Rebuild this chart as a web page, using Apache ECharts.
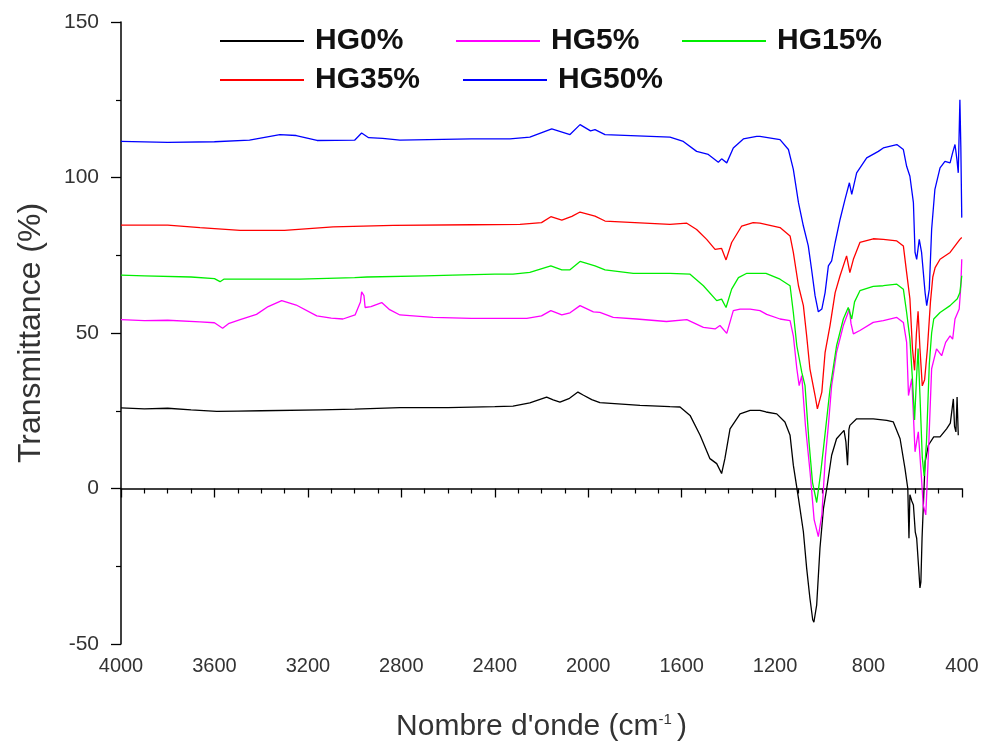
<!DOCTYPE html>
<html><head><meta charset="utf-8">
<script src="https://cdn.jsdelivr.net/npm/echarts@6/dist/echarts.min.js"></script>
<style>html,body{margin:0;padding:0;background:#fff}#c{width:982px;height:747px}</style>
</head><body><div id="c"></div>
<script>
// ---- data (wavenumber cm-1, transmittance %) ----
const seriesNames = ['HG0%', 'HG5%', 'HG15%', 'HG35%', 'HG50%'];
const xTickValues = [4000, 3600, 3200, 2800, 2400, 2000, 1600, 1200, 800, 400];
const yTickValues = [-50, 0, 50, 100, 150];

const hg0Wn = [4000,3900,3800,3700,3590,3500,3400,3148,3000,2806,2600,2400,2322,2250,2178,2150,2121,2080,2044,2020,1985,1950,1778,1650,1607,1564,1521,1479,1450,1429,1415,1393,1350,1307,1265,1239,1193,1158,1136,1122,1100,1079,1065,1051,1039,1034,1022,1008,993,979,958,937,905,897,890,884,880,851,780,722,694,665,644,632,627,623,615,608,600,594,586,580,576,571,558,544,521,494,466,450,437,432,426,421,418,416];
const hg0T  = [25.9,25.6,25.8,25.3,24.8,24.9,25.0,25.3,25.5,26.0,26.0,26.3,26.5,27.5,29.4,28.5,27.8,29,31,30,28.6,27.6,26.7,26.3,26.2,23.5,17.1,9.6,8,4.8,9.6,19.2,24,25.1,25.1,24.6,24,21.4,17.1,7.5,-3.2,-13.9,-25.6,-35.3,-42.2,-43,-37.4,-19.2,-6.4,0,10.7,16,18.7,15,7.5,19,20.3,22.4,22.4,21.9,21.4,16,6.4,0,-16,-2,-4,-5.3,-14,-16,-25,-32,-30,-16,8.5,13.9,16.6,16.6,19.2,21,28.8,20,18.2,29.4,22,17.1];

const hg5Wn = [4000,3900,3800,3662,3600,3565,3540,3490,3420,3370,3312,3250,3162,3100,3050,2998,2975,2970,2960,2955,2930,2884,2850,2806,2664,2500,2263,2200,2160,2113,2078,2035,1978,1950,1893,1793,1665,1578,1507,1457,1436,1407,1379,1350,1307,1265,1236,1179,1136,1122,1107,1097,1086,1070,1050,1033,1015,1000,985,972,958,937,908,882,875,865,837,780,737,679,651,637,629,615,601,587,575,566,555,544,530,509,487,470,451,440,430,412,405,401];
const hg5T  = [54.3,54.0,54.1,53.6,53.3,51.5,53,54.3,56,58.5,60.4,59,55.5,54.8,54.5,55.8,60,63.2,62,58.2,58.5,59.8,57.5,55.8,55,54.7,54.7,55.5,57.2,55.8,56.5,58.8,56.8,56.6,55,54.5,53.7,54.3,51.8,51.3,52.4,49.9,57.2,57.7,57.7,57.2,56,54.5,54,49.1,38.5,33.1,36.3,20,5,-10,-15.5,-8.5,10,20.3,33.1,43.8,52.4,57.7,53,49.7,50.8,53.4,54,55,53.4,47,29.9,35.3,11.8,18.2,5,-5.3,-8.5,10.7,38.5,44.9,42.7,47,49.1,48,54.5,57.7,65,73.7];

const hg15Wn = [4000,3900,3700,3600,3576,3560,3400,3234,3000,2947,2700,2579,2400,2322,2250,2160,2113,2078,2035,1971,1928,1807,1650,1564,1507,1450,1429,1410,1386,1357,1321,1239,1179,1136,1122,1107,1086,1072,1055,1040,1022,1005,990,965,937,908,887,872,860,837,780,737,679,651,637,623,612,603,595,588,580,570,562,552,540,530,521,494,451,420,409,401];
const hg15T  = [68.6,68.4,68.0,67.5,66.5,67.3,67.3,67.3,67.8,68.0,68.4,68.6,68.9,68.9,69.5,71.6,70.3,70.3,73,71.6,70.3,69.2,69.2,68.9,65.2,60.4,60.9,58.2,64.1,67.8,69.2,69.2,67.3,65.2,56.6,45.9,37.4,33.1,15,2,-4.5,5,15,32,45.9,54.5,58.2,54.5,60,63.6,65,65.2,65.7,64.1,56.6,48.1,35,22,35,45,30,10,4,15,40,50,54.5,56.6,58.8,61,63,68.4];

const hg35Wn = [4000,3800,3662,3490,3300,3092,2835,2500,2292,2200,2160,2113,2070,2035,1971,1928,1800,1650,1578,1536,1493,1457,1429,1410,1386,1343,1294,1265,1179,1136,1122,1100,1079,1065,1051,1029,1019,1000,986,965,943,922,894,880,865,837,780,737,679,651,637,623,612,603,595,588,580,570,560,548,535,525,515,494,451,409,401];
const hg35T  = [84.7,84.7,83.9,83.0,83.0,84.1,84.6,84.8,84.9,85.5,87.4,86.3,87.5,88.9,87.6,86,85.5,84.9,85.3,83.3,80.1,76.9,77.2,73.5,79.1,84.4,85.5,85.3,83.9,81.2,75.9,65.2,58.8,49.1,38.5,29.9,25.6,31,43.8,52.4,63,68.4,74.8,69.4,73.7,79.1,80.3,80.1,79.6,78,69.4,61,45,38,50,57,45,33,35,45,60,68,71,73.7,75.9,80.1,80.7];

const hg50Wn = [4000,3800,3600,3450,3320,3250,3161,3000,2970,2940,2880,2806,2500,2335,2250,2156,2078,2035,1990,1971,1928,1650,1593,1536,1486,1443,1429,1407,1379,1336,1279,1265,1179,1143,1122,1100,1079,1058,1044,1029,1015,1000,986,972,958,943,922,901,882,872,851,808,758,737,679,651,637,623,608,601,594,583,573,558,551,540,530,516,494,473,451,440,430,422,416,409,405,401];
const hg50T  = [111.6,111.3,111.5,112,113.8,113.5,111.9,112,114.3,112.8,112.6,112,112.4,112.4,113,115.6,113.8,117,115,115.4,113.8,113,111.6,108.4,107.4,104.9,106,104.7,109.5,112.4,113.2,113.2,112.2,109,102.6,91.9,84.4,78,70.5,62,56.8,57.7,63,71.6,73.2,79.1,86.5,92.9,98.3,94.6,101.5,106.3,108.4,109.5,110.6,109,103.6,100.4,91.9,75.9,73.7,80.1,75.9,63,58.8,64.1,83.3,96.2,103.1,105.2,104.7,108,110.6,106,101.5,125,110,87.1];

// ---- chart ----
const wnSets = [hg0Wn, hg5Wn, hg15Wn, hg35Wn, hg50Wn];
const tSets = [hg0T, hg5T, hg15T, hg35T, hg50T];
const colors = ['#000000', '#ff00ff', '#00ee00', '#ff0000', '#0000ff'];
const FONT = "'Liberation Sans', Arial, sans-serif";

const series = seriesNames.map((name, k) => ({
  name: name,
  type: 'line',
  data: wnSets[k].map((w, i) => [w, tSets[k][i]]),
  symbol: 'none',
  lineStyle: { width: 1.3, color: colors[k] },
  itemStyle: { color: colors[k] },
  animation: false,
  z: 2 + k
}));

const legendPos = [
  { left: 220, top: 26 },
  { left: 456, top: 26 },
  { left: 682, top: 26 },
  { left: 220, top: 65 },
  { left: 463, top: 65 }
];
const legends = seriesNames.map((name, k) => ({
  data: [name],
  left: legendPos[k].left,
  top: legendPos[k].top,
  icon: 'rect',
  itemWidth: 84,
  itemHeight: 2,
  padding: 0,
  textStyle: { fontFamily: FONT, fontWeight: 'bold', fontSize: 30, color: '#111', padding: [0, 0, 0, 6], lineHeight: 30 },
  selectedMode: false
}));

const chart = echarts.init(document.getElementById('c'), null, { renderer: 'canvas' });
chart.setOption({
  backgroundColor: '#fff',
  animation: false,
  legend: legends,
  grid: { left: 121, right: 20, top: 22, bottom: 101, containLabel: false },
  xAxis: {
    type: 'value',
    inverse: true,
    min: 400, max: 4000, interval: 400,
    name: "Nombre d'onde (cm{sup|-1})",
    nameLocation: 'middle',
    nameGap: 68,
    nameTextStyle: {
      fontFamily: FONT, fontSize: 30, color: '#333',
      rich: { sup: { fontFamily: FONT, fontSize: 15, color: '#333', verticalAlign: 'top', padding: [0, 5, 15, 0] } }
    },
    axisLine: { show: true, lineStyle: { color: '#000', width: 1.5 } },
    axisTick: { show: true, inside: false, length: 9, lineStyle: { color: '#000', width: 1.3 } },
    minorTick: { show: true, splitNumber: 4, length: 5, lineStyle: { color: '#000', width: 1.2 } },
    splitLine: { show: false },
    axisLabel: {
      fontFamily: FONT, fontSize: 20, color: '#333', margin: 12,
      showMinLabel: true, showMaxLabel: true,
      formatter: v => xTickValues.includes(v) ? String(v) : ''
    }
  },
  yAxis: {
    type: 'value',
    min: -50, max: 150, interval: 50,
    name: 'Transmittance (%)',
    nameLocation: 'middle',
    nameGap: 74,
    nameTextStyle: { fontFamily: FONT, fontSize: 32, color: '#333' },
    axisLine: { show: true, lineStyle: { color: '#000', width: 1.5 } },
    axisTick: { show: true, inside: false, length: 10, lineStyle: { color: '#000', width: 1.3 } },
    minorTick: { show: true, splitNumber: 2, length: 5, lineStyle: { color: '#000', width: 1.2 } },
    splitLine: { show: false },
    axisLabel: {
      fontFamily: FONT, fontSize: 21, color: '#333', margin: 22,
      formatter: v => yTickValues.includes(v) ? String(v) : ''
    }
  },
  series: series
});
</script>
</body></html>
